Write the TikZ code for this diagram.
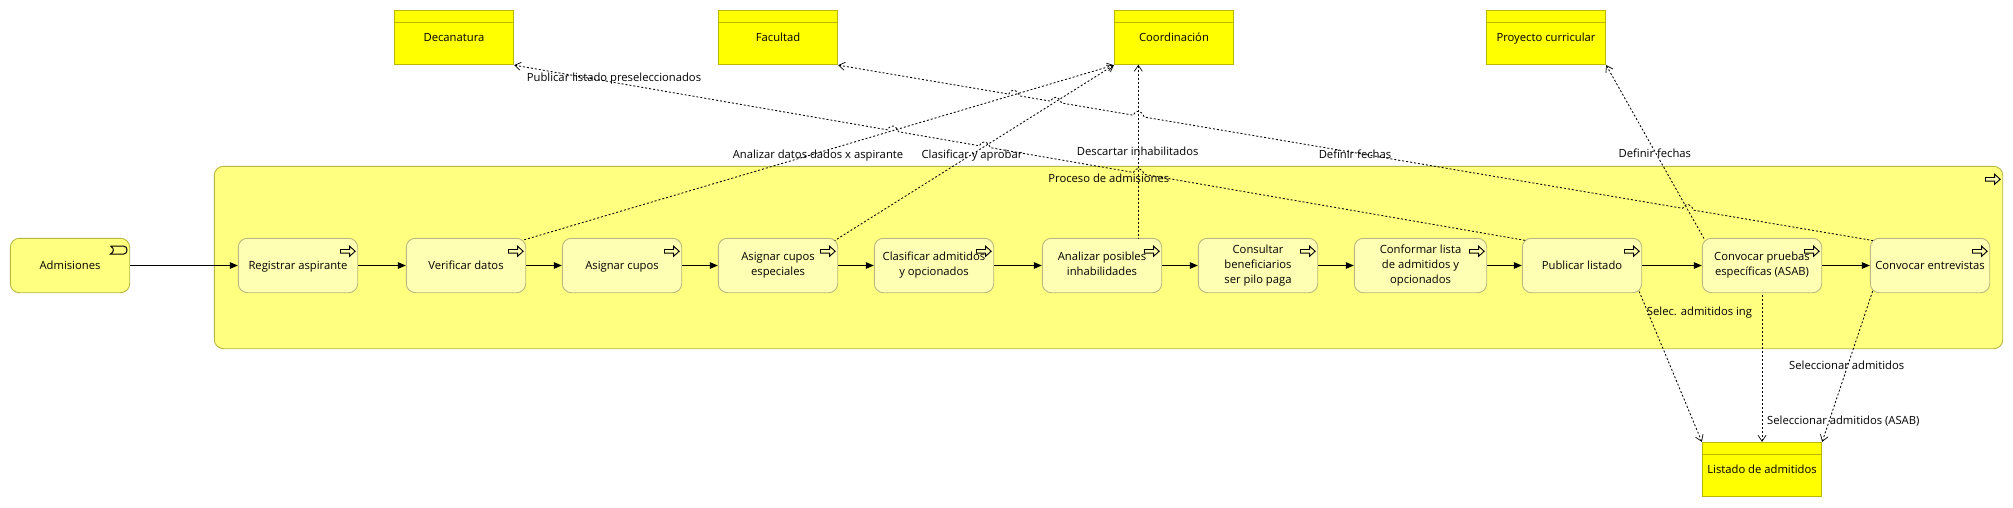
\documentclass[tikz,border=0pt]{standalone}
\usepackage{fontspec}
\setmainfont{Open Sans}
\usetikzlibrary{arrows.meta,calc}
\definecolor{grp}{HTML}{FFFF80}
\definecolor{grpline}{HTML}{B8B840}
\definecolor{act}{HTML}{FFFFB3}
\definecolor{actline}{HTML}{B8B880}
\definecolor{obj}{HTML}{FFFF00}
\definecolor{objline}{HTML}{B8B800}
\definecolor{rolefill}{HTML}{FFFF80}
\tikzset{
  txt/.style={font=\fontsize{11.25}{15}\selectfont,align=center,text=black,execute at begin node={\rule{0pt}{10.4pt}},execute at end node={\vphantom{gy}}},
  groupbox/.style={draw=grpline,fill=grp,line width=0.9pt,rounded corners=9pt,minimum width=1788.4pt,minimum height=182.4pt,inner sep=0pt},
  actbox/.style={txt,draw=actline,fill=act,line width=0.9pt,rounded corners=9pt,minimum width=119.4pt,minimum height=54.4pt,inner sep=0pt},
  rolebox/.style={actbox,draw=grpline,fill=rolefill},
  objbox/.style={txt,draw=objline,fill=obj,line width=0.9pt,minimum width=119.4pt,minimum height=54.4pt,inner sep=0pt},
  flowline/.style={draw=black,line width=1pt,-{Triangle[length=8pt,width=6.5pt]}},
  accessline/.style={draw=black,line width=0.85pt,dash pattern=on 2pt off 2pt,{Straight Barb[length=6pt,width=8pt,line width=0.7pt]}-},
  iconline/.style={draw=black,line width=0.9pt,fill=act},
  edgelabel/.style={txt,inner sep=0pt},
}
% icon in the top right corner of a process box
\newcommand{\procicon}[1]{\draw[iconline,shift={(#1.north east)}] (-17.7,11.6) -- (-8.5,11.6) -- (-8.5,8.4) -- (-3,13.4) -- (-8.5,18.4) -- (-8.5,15.2) -- (-17.7,15.2) -- cycle;}
\newcommand{\headline}[1]{\draw[objline,line width=0.9pt] ($(#1.north west)+(0,12.2)$) -- ($(#1.north east)+(0,12.2)$);}
% a small hop d points along the way from a to b
\newcommand{\hop}[3]{-- ($(#1)!#3pt-5.5pt!(#2)$) .. controls ($(#1)!#3pt-2.5pt!(#2)+(0,-6.5)$) and ($(#1)!#3pt+2.5pt!(#2)+(0,-6.5)$) .. ($(#1)!#3pt+5.5pt!(#2)$)}
\begin{document}
\begin{tikzpicture}[x=1pt,y=-1pt]
\useasboundingbox (0,0) rectangle (2013,507);
\node[groupbox] (grupo) at (1108.5,257.5) {};
\node[edgelabel] (grupotxt) at (1108.8,179) {Proceso de admisiones};
\procicon{grupo}

\node[objbox] (deca) at (454,37.5) {Decanatura};
\node[objbox] (facu) at (778,37.5) {Facultad};
\node[objbox] (coor) at (1174,37.5) {Coordinación};
\node[objbox] (proy) at (1546,37.5) {Proyecto curricular};
\node[objbox] (list) at (1762,469.5) {Listado de admitidos};
\foreach \n in {deca,facu,coor,proy,list}{\headline{\n}}

\node[rolebox] (adm) at (70,265.5) {Admisiones};
\draw[black,line width=1pt,shift={(adm.north east)}] (-19.6,8.2) -- (-6.5,8.2) .. controls (-2,8.2) and (-2,16.2) .. (-6.5,16.2) -- (-19.6,16.2) .. controls (-15.8,14) and (-15.8,10.4) .. (-19.6,8.2);

\node[actbox] (reg) at (298,265.5) {Registrar aspirante};
\node[actbox] (ver) at (466,265.5) {Verificar datos};
\node[actbox] (cup) at (622,265.5) {Asignar cupos};
\node[actbox] (esp) at (778,265.5) {Asignar cupos\\especiales};
\node[actbox] (cla) at (934,265.5) {Clasificar admitidos\\y opcionados};
\node[actbox] (ana) at (1102,265.5) {Analizar posibles\\inhabilidades};
\node[actbox] (con) at (1258,265.5) {Consultar\\beneficiarios\\ser pilo paga};
\node[actbox,minimum width=132.4pt] (cof) at (1420.5,265.5) {Conformar lista\\de admitidos y\\opcionados};
\node[actbox] (pub) at (1582,265.5) {Publicar listado};
\node[actbox] (pru) at (1762,265.5) {Convocar pruebas\\específicas (ASAB)};
\node[actbox] (ent) at (1930,265.5) {Convocar entrevistas};
\foreach \n in {reg,ver,cup,esp,cla,ana,con,cof,pub,pru,ent}{\procicon{\n}}

\draw[flowline] (adm) -- (reg);
\draw[flowline] (reg) -- (ver);
\draw[flowline] (ver) -- (cup);
\draw[flowline] (cup) -- (esp);
\draw[flowline] (esp) -- (cla);
\draw[flowline] (cla) -- (ana);
\draw[flowline] (ana) -- (con);
\draw[flowline] (con) -- (cof);
\draw[flowline] (cof) -- (pub);
\draw[flowline] (pub) -- (pru);
\draw[flowline] (pru) -- (ent);

% connector ends
\coordinate (pubNW) at ($(pub.north west)+(4.4,2.7)$);
\coordinate (pubSE) at ($(pub.south east)+(-3.4,-2.7)$);
\coordinate (entNW) at ($(ent.north west)+(3,2.7)$);
\coordinate (entSW) at ($(ent.south west)+(3,-2.7)$);
\coordinate (verNE) at ($(ver.north east)+(-3.4,2.4)$);
\coordinate (espNE) at ($(esp.north east)+(-3.4,2.7)$);
\coordinate (pruNW) at ($(pru.north west)+(2.7,1.7)$);
\coordinate (anaN) at (1138.3,238.3);
\coordinate (coorB) at (1138.3,64.7);
\coordinate (pruS) at (pru.south);
\coordinate (listN) at (list.north);

\draw[accessline] (deca.south east) \hop{deca.south east}{pubNW}{384.6} \hop{deca.south east}{pubNW}{477.8} \hop{deca.south east}{pubNW}{634} -- (pubNW);
\draw[accessline] (facu.south east) \hop{facu.south east}{entNW}{178.6} \hop{facu.south east}{entNW}{221.1} \hop{facu.south east}{entNW}{304.9} \hop{facu.south east}{entNW}{862.1} -- (entNW);
\draw[accessline] (coor.south west) -- (verNE);
\draw[accessline] (coor.south west) -- (espNE);
\draw[accessline] (coorB) -- (anaN);
\draw[accessline] (proy.south east) -- (pruNW);
\draw[accessline] (list.north west) -- (pubSE);
\draw[accessline] (listN) -- (pruS);
\draw[accessline] (list.north east) -- (entSW);

\node[edgelabel] (l1) at (614,77.7) {Publicar listado preseleccionados};
\node[edgelabel] (l2) at (818,154.3) {Analizar datos dados x aspirante};
\node[edgelabel] (l3) at (972,154.3) {Clasificar y aprobar};
\node[edgelabel] (l4) at (1137.7,151.7) {Descartar inhabilitados};
\node[edgelabel] (l5) at (1355,154.3) {Definir fechas};
\node[edgelabel] (l6) at (1654.8,153.7) {Definir fechas};
\node[edgelabel] (l7) at (1699.5,311.3) {Selec. admitidos ing};
\node[edgelabel] (l8) at (1846.7,366) {Seleccionar admitidos};
\node[edgelabel] (l9) at (1843.3,420.7) {Seleccionar admitidos (ASAB)};
\end{tikzpicture}
\end{document}
